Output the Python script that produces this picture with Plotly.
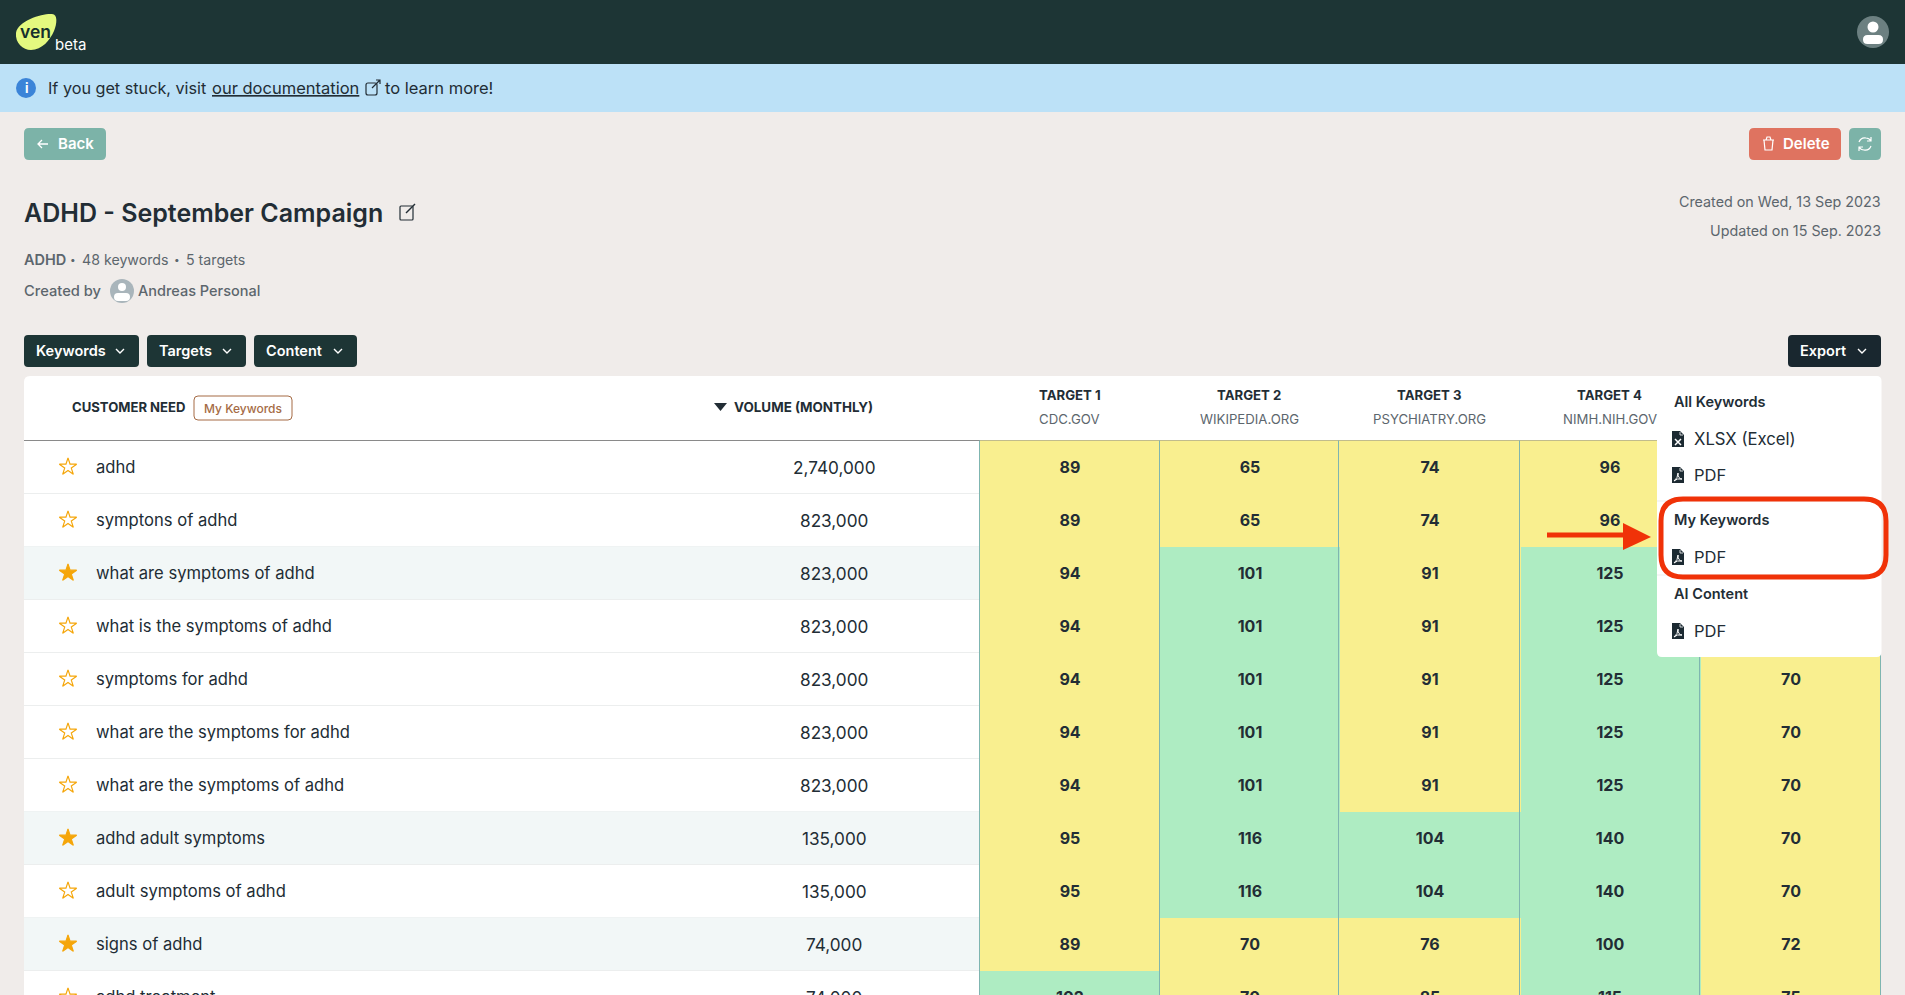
import plotly.graph_objects as go

# table data
keywords = ['adhd', 'symptons of adhd', 'what are symptoms of adhd', 'what is the symptoms of adhd',
            'symptoms for adhd', 'what are the symptoms for adhd', 'what are the symptoms of adhd',
            'adhd adult symptoms', 'adult symptoms of adhd', 'signs of adhd', 'adhd treatment']
volumes = ['2,740,000', '823,000', '823,000', '823,000', '823,000', '823,000', '823,000',
           '135,000', '135,000', '74,000', '74,000']
starred = [0, 0, 1, 0, 0, 0, 0, 1, 0, 1, 0]

target_1 = [89, 89, 94, 94, 94, 94, 94, 95, 95, 89, 102]
target_2 = [65, 65, 101, 101, 101, 101, 101, 116, 116, 70, 70]
target_3 = [74, 74, 91, 91, 91, 91, 91, 104, 104, 76, 85]
target_4 = [96, 96, 125, 125, 125, 125, 125, 140, 140, 100, 115]
# first four are hidden behind the export menu
target_5 = [None, None, None, None, 70, 70, 70, 70, 70, 72, 75]

target_names = ['TARGET 1', 'TARGET 2', 'TARGET 3', 'TARGET 4']
target_sites = ['CDC.GOV', 'WIKIPEDIA.ORG', 'PSYCHIATRY.ORG', 'NIMH.NIH.GOV']

# page geometry, in screen pixels. the figure runs past the window so the last row gets cut by the page
W, H = 1905, 1040
col_edges = [980, 1160, 1339, 1520, 1700, 1881]
row_edges = [440.5 + 53 * i for i in range(12)]
row_mid = [(row_edges[i] + row_edges[i + 1]) / 2 for i in range(11)]

FONT = 'Inter'
DARK = '#1d3535'
INK = '#222d35'
GREY = '#5c666d'
TEAL = '#7cb3a8'
YELLOW = '#f9ef8f'
GREEN = '#aeecc2'
RED = '#f03208'

shapes = []
notes = []


def box(x0, y0, x1, y1, r=0, fill=None, line=None, lw=1, layer='below'):
    p = (f'M {x0+r} {y0} L {x1-r} {y0} Q {x1} {y0} {x1} {y0+r} L {x1} {y1-r} Q {x1} {y1} {x1-r} {y1} '
         f'L {x0+r} {y1} Q {x0} {y1} {x0} {y1-r} L {x0} {y0+r} Q {x0} {y0} {x0+r} {y0} Z')
    path(p, fill, line, lw, layer)


def path(p, fill=None, line=None, lw=1, layer='below'):
    shapes.append(dict(type='path', path=p, xref='x', yref='y', layer=layer,
                       fillcolor=fill if fill else 'rgba(0,0,0,0)',
                       line=dict(color=line if line else 'rgba(0,0,0,0)', width=lw if line else 0)))


def label(x, y, text, size=17, color=INK, weight=400, anchor='left', under=False):
    font = dict(family=FONT, size=size, color=color, weight=weight)
    if under:
        font['lineposition'] = 'under'
    if anchor == 'left':
        x -= 1
    elif anchor == 'right':
        x += 1
    notes.append(dict(x=x, y=y, xref='x', yref='y', text=text, showarrow=False, xanchor=anchor,
                      yanchor='middle', font=font, borderpad=0))


def chevron(cx, cy, color='white', layer='below'):
    path(f'M {cx-4} {cy-2} L {cx} {cy+2} L {cx+4} {cy-2}', None, color, 1.4, layer)


def circle(cx, cy, r, fill, layer='below'):
    shapes.append(dict(type='circle', xref='x', yref='y', x0=cx-r, x1=cx+r, y0=cy-r, y1=cy+r,
                       fillcolor=fill, line=dict(width=0), layer=layer))


def file_icon(x, y, kind):
    # little document glyph for the export menu
    path(f'M {x} {y} L {x+8} {y} L {x+12} {y+4} L {x+12} {y+16} L {x} {y+16} Z', '#1c2a32', None, 1, 'above')
    path(f'M {x+8} {y+1} L {x+8} {y+4} L {x+11} {y+4}', None, 'white', 0.8, 'above')
    if kind == 'x':
        path(f'M {x+3} {y+8} L {x+9} {y+14} M {x+9} {y+8} L {x+3} {y+14}', None, 'white', 1.5, 'above')
    else:
        path(f'M {x+2} {y+14} Q {x+6} {y+11} {x+6} {y+6} Q {x+6} {y+12} {x+10} {y+12} Q {x+5} {y+11} {x+2} {y+14}',
             None, 'white', 1, 'above')


# header strips
box(0, 0, W, 64, fill=DARK)
box(0, 64, W, 112, fill='#bce1f7')

# logo
path('M 52 14 C 44 13 18 20 16 33 C 15 43 23 50 31 50 C 42 50 50 40 54 31 C 57 24 58 14 52 14 Z', '#e4f97f')
label(20, 31, 'ven', 17.5, '#16302c', 600)
label(55, 44, 'beta', 15, 'white', 400)

# account icon
circle(1873, 32, 16, '#6c8081')
circle(1873, 27, 5.5, 'white')
box(1863, 35, 1883, 44, r=4.5, fill='white')

# notice bar
circle(26, 88, 10, '#3b84d8')
label(27, 88, 'i', 13, 'white', 700, 'center')
label(48, 88, 'If you get stuck, visit', 16.2, INK)
label(212, 88, 'our documentation', 16.5, INK, under=True)
box(366, 83, 377, 95, r=2, line=INK, lw=1.2)
path('M 372 88 L 380 80 M 376 80 L 380 80 L 380 84', None, INK, 1.2)
label(385, 88, 'to learn more!', 16.5, INK)

# top buttons
box(24, 128, 106, 160, r=5, fill=TEAL)
path('M 38 144 L 48 144 M 42 140 L 38 144 L 42 148', None, 'white', 1.3)
label(58, 143.5, 'Back', 15, 'white', 600)
box(1749, 128, 1841, 160, r=5, fill='#df7360')
path('M 1764 140 L 1773 140 L 1772 150 L 1765 150 Z M 1763 140 L 1774 140 M 1766 140 L 1767 137 L 1770 137 L 1771 140',
     None, 'white', 1.2)
label(1783, 143.5, 'Delete', 15, 'white', 600)
box(1849, 128, 1881, 160, r=5, fill=TEAL)
path('M 1859 142 Q 1861 137 1866 138 Q 1869 138 1871 141 M 1871 137 L 1871 141 L 1867 141', None, 'white', 1.2)
path('M 1871 146 Q 1869 151 1864 150 Q 1861 150 1859 147 M 1859 151 L 1859 147 L 1863 147', None, 'white', 1.2)

# title block
label(24, 213, 'ADHD - September Campaign', 25, INK, 600)
box(400, 206, 413, 220, r=1, line=INK, lw=1.2)
path('M 406 213 L 415 204', None, INK, 1.4)
label(24, 259.5, 'ADHD', 14.5, GREY, 600)
label(73, 259, '•', 10, GREY, 400, 'center')
label(82, 259.5, '48 keywords', 14.2, GREY)
label(177, 259, '•', 10, GREY, 400, 'center')
label(186, 259.5, '5 targets', 14.2, GREY)
label(24, 290.5, 'Created by', 14.7, GREY, 500)
circle(122, 291, 12, '#a9b5bb')
circle(122, 287, 4, 'white')
box(114, 293, 130, 301, r=4, fill='white')
label(138, 290.5, 'Andreas Personal', 14.5, GREY, 500)
label(1881, 201, 'Created on Wed, 13 Sep 2023', 14.3, GREY, 400, 'right')
label(1881, 230.5, 'Updated on 15 Sep. 2023', 14.3, GREY, 400, 'right')

# dropdown buttons
for x0, x1, name in [(24, 139, 'Keywords'), (147, 246, 'Targets'), (254, 357, 'Content')]:
    box(x0, 335, x1, 367, r=4, fill=DARK)
    label(x0 + 12, 350.5, name, 14.5, 'white', 600)
    chevron(x1 - 19, 351)
box(1788, 335, 1881, 367, r=4, fill='#19272f')
label(1800, 350.5, 'Export', 14.5, 'white', 600)
chevron(1862, 351)

# table panel and rows
box(24, 376, 1881, H, r=6, fill='white')
for i, flag in enumerate(starred):
    if flag:
        box(24, row_edges[i], col_edges[0], row_edges[i + 1], fill='#f2f7f7')
    box(24, row_edges[i + 1] - 0.5, col_edges[0], row_edges[i + 1] + 0.5, fill='#eceeee')
    label(96, row_mid[i], keywords[i], 16.6, INK)
    label(834, row_mid[i], volumes[i], 17.2, INK, 400, 'center')
box(24, 440, col_edges[-1], 441, fill='#8a8a8a')

# table header
label(72, 407, 'CUSTOMER NEED', 13.1, INK, 700)
box(194, 396, 292, 420, r=4, line='#a56b45', lw=1)
label(243, 408, 'My Keywords', 12, '#a56b45', 500, 'center')
path('M 714 403 L 727 403 L 720.5 411 Z', INK)
label(734, 407, 'VOLUME (MONTHLY)', 13.4, INK, 700)
for i in range(4):
    cx = (col_edges[i] + col_edges[i + 1]) / 2
    label(cx - 0.5, 395, target_names[i], 13.2, INK, 700, 'center')
    label(cx - 0.5, 419, target_sites[i], 13.2, GREY, 400, 'center')

# export menu sits over the table
box(1657, 376, 1881.5, 657, r=5, fill='white', layer='above')
box(1657, 500.5, 1880, 501.5, fill='#eeeeee', layer='above')
box(1657, 574.5, 1880, 575.5, fill='#eeeeee', layer='above')
label(1674, 401, 'All Keywords', 14.5, INK, 600)
label(1694, 439, 'XLSX (Excel)', 16.7, INK)
label(1694, 475, 'PDF', 16.5, INK)
label(1674, 519.5, 'My Keywords', 14.5, INK, 600)
label(1694, 557, 'PDF', 16.5, INK)
label(1674, 593.5, 'AI Content', 14.5, INK, 600)
label(1694, 631, 'PDF', 16.5, INK)
file_icon(1672, 431, 'x')
file_icon(1672, 467, 'p')
file_icon(1672, 549, 'p')
file_icon(1672, 623, 'p')

# red call-out
box(1661, 499, 1886, 577, r=22, line=RED, lw=5, layer='above')
box(1547, 532.5, 1624, 537.5, fill=RED, layer='above')
path('M 1623 523 L 1651 537 L 1623 550 Z', RED, None, 1, 'above')

fig = go.Figure()

fig.add_trace(go.Heatmap(
    x=col_edges, y=row_edges,
    z=[[target_1[i], target_2[i], target_3[i], target_4[i], target_5[i]] for i in range(11)],
    zmin=0, zmax=200,
    colorscale=[[0, YELLOW], [0.4975, YELLOW], [0.4975, GREEN], [1, GREEN]],
    showscale=False, hoverinfo='skip',
    texttemplate='%{z}', textfont=dict(family=FONT, size=16, color=INK, weight=700),
))

# column rules
for x in col_edges:
    fig.add_trace(go.Scatter(x=[x - 0.5, x - 0.5], y=[row_edges[0], H], mode='lines',
                             line=dict(color='#7fb5b0', width=1), hoverinfo='skip'))

# favourite stars
fig.add_trace(go.Scatter(
    x=[68] * len(starred), y=row_mid, mode='markers', hoverinfo='skip',
    marker=dict(size=13, color='#f5a60a', line=dict(color='#f5a60a', width=1.2),
                symbol=['star' if s else 'star-open' for s in starred]),
))

fig.update_layout(
    width=W, height=H, margin=dict(l=0, r=0, t=0, b=0), showlegend=False,
    paper_bgcolor='#f0ecea', plot_bgcolor='rgba(0,0,0,0)',
    xaxis=dict(range=[0, W], visible=False, fixedrange=True),
    yaxis=dict(range=[H, 0], visible=False, fixedrange=True),
    shapes=shapes, annotations=notes,
)

fig.write_html('out.html', config=dict(displayModeBar=False),
               post_script="document.documentElement.style.overflow='hidden';document.body.style.margin='0';"
                           "document.body.style.height='995px';document.body.style.overflow='hidden';")
